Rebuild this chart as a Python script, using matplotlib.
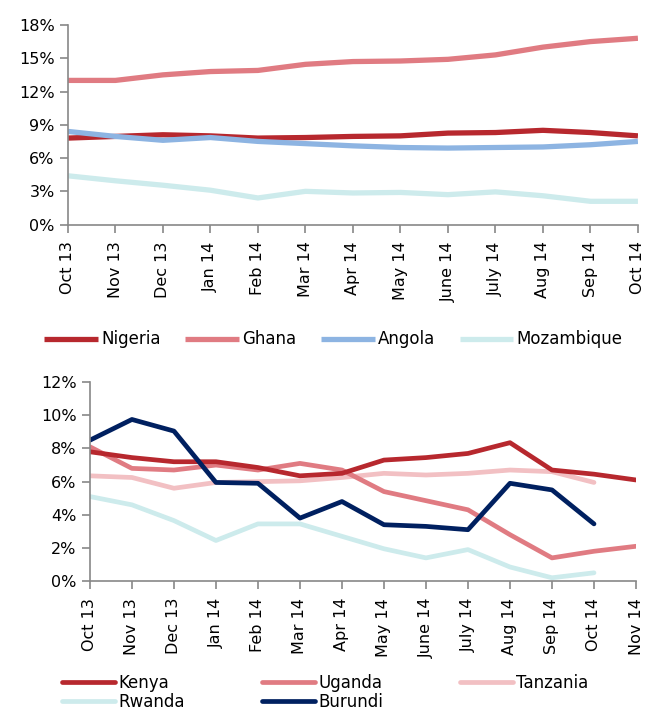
import numpy as np
import matplotlib
matplotlib.use("Agg")
import matplotlib.pyplot as plt
from matplotlib.ticker import FuncFormatter

plt.rcParams["font.family"] = ["DejaVu Sans"]
plt.rcParams["font.size"] = 11

# top chart data (%)
months_top = ["Oct 13", "Nov 13", "Dec 13", "Jan 14", "Feb 14", "Mar 14", "Apr 14",
              "May 14", "June 14", "July 14", "Aug 14", "Sep 14", "Oct 14"]
nigeria = [7.8, 7.95, 8.1, 8.0, 7.8, 7.85, 7.95, 8.0, 8.25, 8.3, 8.5, 8.3, 8.0]
ghana = [13.0, 13.0, 13.5, 13.8, 13.9, 14.45, 14.7, 14.75, 14.9, 15.3, 16.0, 16.5, 16.8]
angola = [8.4, 7.95, 7.6, 7.85, 7.5, 7.3, 7.1, 6.95, 6.9, 6.95, 7.0, 7.2, 7.5]
mozambique = [4.4, 3.95, 3.55, 3.1, 2.4, 3.0, 2.85, 2.9, 2.7, 2.95, 2.6, 2.1, 2.1]

# bottom chart data (%)
months_bot = months_top + ["Nov 14"]
kenya = [7.8, 7.45, 7.2, 7.2, 6.85, 6.35, 6.5, 7.3, 7.45, 7.7, 8.35, 6.7, 6.45, 6.1]
uganda = [8.1, 6.8, 6.7, 7.0, 6.7, 7.1, 6.7, 5.4, 4.85, 4.3, 2.8, 1.4, 1.8, 2.1]
tanzania = [6.35, 6.25, 5.6, 5.95, 6.0, 6.05, 6.25, 6.5, 6.4, 6.5, 6.7, 6.6, 5.95]
rwanda = [5.1, 4.6, 3.65, 2.45, 3.45, 3.45, 2.7, 1.95, 1.4, 1.9, 0.85, 0.2, 0.5]
burundi = [8.5, 9.75, 9.05, 5.95, 5.9, 3.8, 4.8, 3.4, 3.3, 3.1, 5.9, 5.5, 3.45]

c_dark = "#B7282E"
c_mid = "#E07B82"
c_blue = "#8DB4E2"
c_cyan = "#CDEBEC"
c_pink = "#F2C0C3"
c_navy = "#002060"
axis_col = "#888888"

fig = plt.figure(figsize=(6.47, 7.13), dpi=100)
ax1 = fig.add_axes([0.105, 0.685, 0.881, 0.28])
ax2 = fig.add_axes([0.139, 0.185, 0.844, 0.279])

def style(ax, n, ymax, step):
    for s in ["top", "right"]:
        ax.spines[s].set_visible(False)
    for s in ["left", "bottom"]:
        ax.spines[s].set_color(axis_col)
        ax.spines[s].set_linewidth(1.2)
    ax.set_xlim(0, n - 1)
    ax.set_ylim(0, ymax)
    ax.set_yticks(np.arange(0, ymax + 0.1, step))
    ax.yaxis.set_major_formatter(FuncFormatter(lambda v, p: "%d%%" % round(v)))
    ax.tick_params(axis="both", color=axis_col, length=6, width=1.2, labelsize=11.5)
    ax.tick_params(axis="x", pad=6)
    ax.patch.set_alpha(0)

x1 = np.arange(len(months_top))
ax1.plot(x1, mozambique, color=c_cyan, lw=3.8, label="Mozambique", solid_capstyle="butt")
ax1.plot(x1, ghana, color=c_mid, lw=3.8, label="Ghana", solid_capstyle="butt")
ax1.plot(x1, nigeria, color=c_dark, lw=3.8, label="Nigeria", solid_capstyle="butt")
ax1.plot(x1, angola, color=c_blue, lw=3.8, label="Angola", solid_capstyle="butt")
style(ax1, len(months_top), 18, 3)
ax1.set_xticks(x1)
ax1.set_xticklabels(months_top, rotation=90)
h, l = ax1.get_legend_handles_labels()
order = [2, 1, 3, 0]
ax1.legend([h[i] for i in order], [l[i] for i in order], ncol=4, frameon=False,
           loc="center", bbox_to_anchor=(0.466, -0.575), fontsize=12,
           handlelength=3.2, handletextpad=0.2, columnspacing=1.5)

x2 = np.arange(len(months_bot))
ax2.plot(x2[:len(rwanda)], rwanda, color=c_cyan, lw=3.4, label="Rwanda", solid_capstyle="round")
ax2.plot(x2[:len(tanzania)], tanzania, color=c_pink, lw=3.4, label="Tanzania", solid_capstyle="round")
ax2.plot(x2, uganda, color=c_mid, lw=3.4, label="Uganda", solid_capstyle="round")
ax2.plot(x2, kenya, color=c_dark, lw=3.4, label="Kenya", solid_capstyle="round")
ax2.plot(x2[:len(burundi)], burundi, color=c_navy, lw=3.4, label="Burundi", solid_capstyle="round")
style(ax2, len(months_bot), 12, 2)
ax2.set_xticks(x2)
ax2.set_xticklabels(months_bot, rotation=90)
h, l = ax2.get_legend_handles_labels()
lab_order = ["Kenya", "Rwanda", "Uganda", "Burundi", "Tanzania"]
hs = [h[l.index(n)] for n in lab_order]
ax2.legend(hs, lab_order, ncol=3, frameon=False, loc="upper left",
           bbox_to_anchor=(-0.07, -0.415), fontsize=12, handlelength=3.2,
           handletextpad=0.2, columnspacing=4.6, labelspacing=0.1,
           borderpad=0.1)

fig.savefig("out.png", dpi=100)
